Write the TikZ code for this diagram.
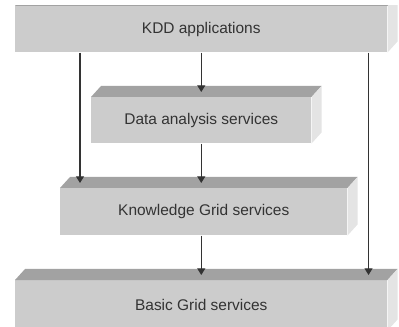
\documentclass[tikz,border=0pt]{standalone}
\usepackage{fontspec}
\setmainfont{Liberation Sans}
\usepackage{tikz}
\usetikzlibrary{arrows.meta,calc}
\definecolor{faceFront}{HTML}{CCCCCC}
\definecolor{faceTop}{HTML}{A2A2A2}
\definecolor{faceSide}{HTML}{E4E4E4}
\definecolor{inkGray}{HTML}{333333}
\tikzstyle{layer} = [rectangle, fill=faceFront, inner sep=0pt, anchor=north west,
text=inkGray, font=\fontsize{11.6}{13}\selectfont]
\tikzstyle{flow} = [draw=inkGray, line width=0.8pt,
-{Triangle[width=6pt,length=5pt]}]
% top and side faces of a layer
\newcommand{\slab}[1]{
	\fill[faceTop] (#1.north west) -- ++(10,-11) -- ($(#1.north east)+(10,-11)$) -- (#1.north east) -- cycle;
	\fill[faceSide] (#1.north east) -- ++(10,-11) -- ($(#1.south east)+(10,-11)$) -- (#1.south east) -- cycle;
}

\begin{document}
\begin{tikzpicture}[x=0.75pt,y=-0.75pt]
	\useasboundingbox (0,0) rectangle (399,327);
	\clip (0,0) rectangle (399,327);

	\node[layer, minimum width=372*0.75pt, minimum height=46*0.75pt] (kdd) at (15,6){\raisebox{-1.5pt}{KDD applications}};
	\begin{scope}
		\clip (0,6) rectangle (399,327);
		\slab{kdd}
	\end{scope}
	\node[layer, minimum width=220*0.75pt, minimum height=46*0.75pt] (data) at (91,97){Data analysis services};
	\slab{data}
	\node[layer, minimum width=287*0.75pt, minimum height=47*0.75pt] (know) at (60,188){Knowledge Grid services};
	\slab{know}
	\node[layer, minimum width=372*0.75pt, minimum height=50*0.75pt] (basic) at (15,280){\raisebox{-1.5pt}{Basic Grid services}};
	\slab{basic}

	% arrow ends sit on the top faces
	\coordinate (dataTop) at ($(data.north)+(0,-5)$);
	\coordinate (knowTop) at ($(know.north)+(0,-5)$);
	\coordinate (basicTop) at ($(basic.north)+(0,-5)$);
	\coordinate (leftIn) at ($(know.north west)+(20,-5)$);
	\coordinate (rightIn) at ($(basic.north east)+(-19,-5)$);

	\draw[flow] (kdd.south) -- (kdd.south |- dataTop);
	\draw[flow] (data.south) -- (data.south |- knowTop);
	\draw[flow] (know.south -| data.south) -- (data.south |- basicTop);
	\draw[flow] (kdd.south -| leftIn) -- (leftIn);
	\draw[flow] (kdd.south -| rightIn) -- (rightIn);
\end{tikzpicture}
\end{document}
